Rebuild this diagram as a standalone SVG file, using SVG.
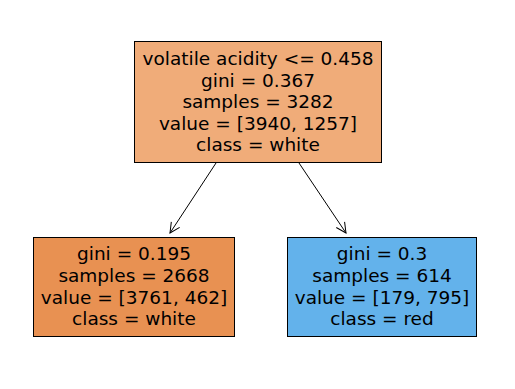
<svg xmlns="http://www.w3.org/2000/svg" width="515" height="389" viewBox="0 0 515 389">
<defs>
<style>
.box{stroke:#000;stroke-width:1}
text{font-family:"DejaVu Sans",sans-serif;font-size:18.5px;text-anchor:middle;fill:#000}
.edge{stroke:#000;stroke-width:1;fill:none}
</style>
<marker id="arr" viewBox="0 0 12 12" refX="11" refY="6" markerWidth="12" markerHeight="12" markerUnits="userSpaceOnUse" orient="auto">
<path d="M1,1 L11,6 L1,11" fill="none" stroke="#000" stroke-width="1"/>
</marker>
</defs>
<rect width="515" height="389" fill="#fff"/>
<g id="edges">
<line class="edge" x1="216" y1="163" x2="170" y2="233" marker-end="url(#arr)"/>
<line class="edge" x1="299" y1="163" x2="346" y2="233" marker-end="url(#arr)"/>
</g>
<g id="root">
<rect class="box" x="134.5" y="41.5" width="247" height="121" fill="#f0ac79"/>
<text x="258" y="65">volatile acidity &lt;= 0.458</text>
<text x="258" y="86.5">gini = 0.367</text>
<text x="258" y="108">samples = 3282</text>
<text x="258" y="129.5">value = [3940, 1257]</text>
<text x="258" y="151">class = white</text>
</g>
<g id="left">
<rect class="box" x="33.5" y="237.5" width="201" height="99" fill="#e89152"/>
<text x="134" y="260">gini = 0.195</text>
<text x="134" y="282">samples = 2668</text>
<text x="134" y="303.5">value = [3761, 462]</text>
<text x="134" y="325">class = white</text>
</g>
<g id="right">
<rect class="box" x="287.5" y="237.5" width="189" height="99" fill="#63b2eb"/>
<text x="382" y="260">gini = 0.3</text>
<text x="382" y="282">samples = 614</text>
<text x="382" y="303.5">value = [179, 795]</text>
<text x="382" y="325">class = red</text>
</g>
</svg>
